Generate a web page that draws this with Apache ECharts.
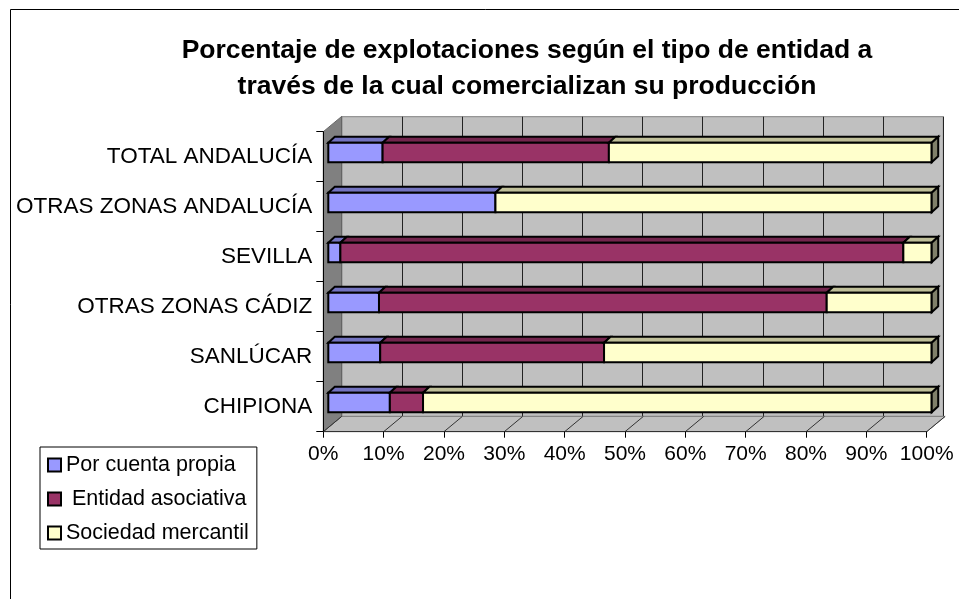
<!DOCTYPE html>
<html>
<head>
<meta charset="utf-8">
<script src="https://cdn.jsdelivr.net/npm/echarts@6/dist/echarts.min.js"></script>
<style>
  html, body { margin: 0; padding: 0; background: #fff; }
  #main { width: 959px; height: 599px; }
</style>
</head>
<body>
<div id="main"></div>
<script>
// categorias (de abajo arriba, como en Excel)
var categories = ['CHIPIONA', 'SANLÚCAR', 'OTRAS ZONAS CÁDIZ', 'SEVILLA', 'OTRAS ZONAS ANDALUCÍA', 'TOTAL ANDALUCÍA'];
var seriesNames = ['Por cuenta propia', ' Entidad asociativa', 'Sociedad mercantil'];
var propia = [10.2, 8.6, 8.4, 2.0, 27.7, 9.0];
var asociativa = [5.5, 37.1, 74.2, 93.3, 0, 37.5];
var mercantil = [84.3, 54.3, 17.4, 4.7, 72.3, 53.5];
var xTicks = [0, 10, 20, 30, 40, 50, 60, 70, 80, 90, 100];

var frontColors = ['#9999FF', '#993366', '#FFFFCC'];
var topColors = ['#7373BF', '#73264D', '#BFBF99'];
var sideColors = ['#4D4D80', '#4D1A33', '#80806A'];

var FONT = 'Arial, "Liberation Sans", sans-serif';
// profundidad de las barras y de las paredes
var BDX = 6.5, BDY = 6;
var WDX = 18.4, WDY = 15.3;

var chart = echarts.init(document.getElementById('main'));

// datos apilados: [inicio, fin, categoria]
var allValues = [propia, asociativa, mercantil];
var stacked = allValues.map(function (vals, s) {
  return vals.map(function (v, i) {
    var start = 0;
    for (var k = 0; k < s; k++) start += allValues[k][i];
    return [start, start + v, i];
  });
});

function makeBarRender(s) {
  return function (params, api) {
    var a = api.value(0), b = api.value(1);
    if (b - a <= 0) return null;
    var p0 = api.coord([a, api.value(2)]);
    var p1 = api.coord([b, api.value(2)]);
    var h = api.size([0, 1])[1] * 0.392;
    var top = p0[1] - h / 2, bot = p0[1] + h / 2;
    var x0 = p0[0], x1 = p1[0];
    var line = { stroke: '#000', lineWidth: 2, lineJoin: 'miter' };
    var children = [
      { type: 'polygon', shape: { points: [[x0, top], [x1, top], [x1 + BDX, top - BDY], [x0 + BDX, top - BDY]] },
        style: Object.assign({ fill: topColors[s] }, line) },
      { type: 'rect', shape: { x: x0, y: top, width: x1 - x0, height: h },
        style: Object.assign({ fill: frontColors[s] }, line) }
    ];
    if (s === allValues.length - 1) {
      children.push({ type: 'polygon', shape: { points: [[x1, top], [x1 + BDX, top - BDY], [x1 + BDX, bot - BDY], [x1, bot]] },
        style: Object.assign({ fill: sideColors[s] }, line) });
    }
    return { type: 'group', children: children };
  };
}

var barSeries = stacked.map(function (d, s) {
  return {
    name: seriesNames[s],
    type: 'custom',
    xAxisIndex: 2,
    yAxisIndex: 2,
    z: 5,
    itemStyle: { color: frontColors[s] },
    encode: { x: [0, 1], y: 2 },
    renderItem: makeBarRender(s),
    data: d
  };
});

var option = {
  backgroundColor: '#fff',
  animation: false,
  title: {
    text: 'Porcentaje de explotaciones según el tipo de entidad a\ntravés de la cual comercializan su producción',
    left: 527,
    top: 33,
    padding: 0,
    textAlign: 'center',
    textStyle: { fontFamily: FONT, fontSize: 26.5, fontWeight: 'bold', lineHeight: 36, color: '#000' }
  },
  legend: {
    data: seriesNames,
    orient: 'vertical',
    left: 40,
    top: 447,
    padding: [7, 8, 5, 7],
    itemGap: 12,
    itemWidth: 13,
    itemHeight: 13,
    itemTextGap: 5,
    icon: 'rect',
    itemStyle: { borderColor: '#000', borderWidth: 2 },
    backgroundColor: '#fff',
    borderColor: '#000',
    borderWidth: 1,
    borderRadius: 0,
    textStyle: { fontFamily: FONT, fontSize: 21.5, lineHeight: 21, color: '#000' }
  },
  grid: [
    // pared del fondo
    { left: 341.7, top: 116.7, width: 601.6, height: 299.7, show: true, backgroundColor: '#C0C0C0', borderColor: '#808080', borderWidth: 1 },
    // ejes delanteros
    { left: 323.3, top: 131.7, width: 603.4, height: 300 },
    // barras
    { left: 328.3, top: 127.5, width: 603.4, height: 300 }
  ],
  xAxis: [
    { gridIndex: 0, type: 'value', min: 0, max: 100, interval: 10,
      axisLine: { show: false }, axisTick: { show: false }, axisLabel: { show: false },
      splitLine: { show: true, lineStyle: { color: '#222', width: 1 } } },
    { gridIndex: 1, type: 'value', min: 0, max: 100, interval: 10, z: 4,
      axisLine: { show: true, lineStyle: { color: '#333', width: 1 } },
      axisTick: { show: true, length: 6, lineStyle: { color: '#000' } },
      axisLabel: { formatter: '{value}%', margin: 12, fontFamily: FONT, fontSize: 21, color: '#000' },
      splitLine: { show: false } },
    { gridIndex: 2, type: 'value', min: 0, max: 100, show: false }
  ],
  yAxis: [
    { gridIndex: 0, type: 'value', show: false },
    { gridIndex: 1, type: 'category', data: categories, z: 4,
      axisLine: { show: true, lineStyle: { color: '#000', width: 1 } },
      axisTick: { show: true, length: 7, lineStyle: { color: '#000' } },
      axisLabel: { margin: 11, fontFamily: FONT, fontSize: 22.5, color: '#000' } },
    { gridIndex: 2, type: 'category', data: categories, show: false }
  ],
  graphic: [
    { type: 'rect', shape: { x: 10.5, y: 9.5, width: 1000, height: 1000 },
      style: { fill: null, stroke: '#000', lineWidth: 1 }, z: 100 }
  ],
  series: [
    {
      // suelo y pared izquierda
      name: 'walls',
      type: 'custom',
      xAxisIndex: 1,
      yAxisIndex: 1,
      z: 1,
      silent: true,
      data: [[0, 100]],
      encode: { x: [0, 1] },
      renderItem: function (params, api) {
        var cs = params.coordSys;
        var xl = api.coord([api.value(0), 0])[0];
        var xr = api.coord([api.value(1), 0])[0];
        var yb = cs.y + cs.height, yt = cs.y;
        return {
          type: 'group',
          children: [
            { type: 'polygon', shape: { points: [[xl, yb], [xr, yb], [xr + WDX, yb - WDY], [xl + WDX, yb - WDY]] },
              style: { fill: '#C0C0C0', stroke: '#808080', lineWidth: 1 } },
            { type: 'polygon', shape: { points: [[xl, yt], [xl + WDX, yt - WDY], [xl + WDX, yb - WDY], [xl, yb]] },
              style: { fill: '#808080', stroke: '#666', lineWidth: 1 } }
          ]
        };
      }
    },
    {
      // lineas del suelo
      name: 'floorLines',
      type: 'custom',
      xAxisIndex: 1,
      yAxisIndex: 1,
      z: 2,
      silent: true,
      data: xTicks.map(function (t) { return [t]; }),
      encode: { x: 0 },
      renderItem: function (params, api) {
        var cs = params.coordSys;
        var x = api.coord([api.value(0), 0])[0];
        var yb = cs.y + cs.height;
        return { type: 'line', shape: { x1: x, y1: yb, x2: x + WDX, y2: yb - WDY },
          style: { stroke: '#333', lineWidth: 1 } };
      }
    }
  ].concat(barSeries)
};

chart.setOption(option);
</script>
</body>
</html>
